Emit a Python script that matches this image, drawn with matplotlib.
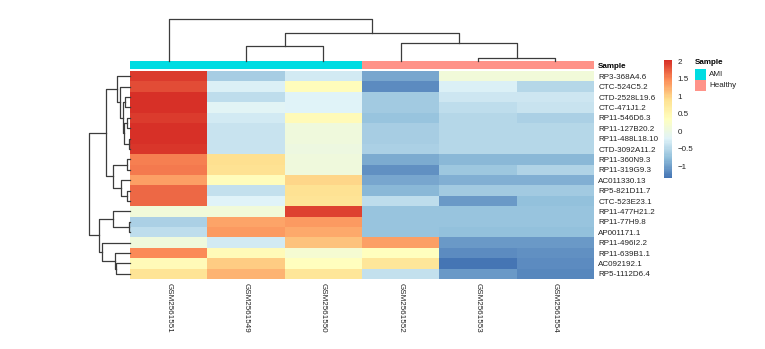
import numpy as np
import matplotlib
matplotlib.use("Agg")
from matplotlib import pyplot as plt
from matplotlib.colors import LinearSegmentedColormap, ListedColormap
from matplotlib.patches import Rectangle

ROW_LABELS = ["RP3-368A4.6", "CTC-524C5.2", "CTD-2528L19.6", "CTC-471J1.2",
              "RP11-546D6.3", "RP11-127B20.2", "RP11-488L18.10", "CTD-3092A11.2",
              "RP11-360N9.3", "RP11-319G9.3", "AC011330.13", "RP5-821D11.7",
              "CTC-523E23.1", "RP11-477H21.2", "RP11-77H9.8", "AP001171.1",
              "RP11-496I2.2", "RP11-639B1.1", "AC092192.1", "RP5-1112D6.4"]
COL_LABELS = ["GSM2561551", "GSM2561549", "GSM2561550",
              "GSM2561552", "GSM2561553", "GSM2561554"]
SAMPLE_GROUP = ["AMI", "AMI", "AMI", "Healthy", "Healthy", "Healthy"]
GROUP_NAMES = ["AMI", "Healthy"]
GROUP_COLORS = ["#00DCE2", "#FF9389"]

# z-scored expression, rows in displayed (clustered) order
VALUES = [
    [1.95, -0.60, -0.30, -0.95, 0.10, 0.10],
    [1.85, -0.25, 0.40, -1.15, -0.25, -0.50],
    [2.03, -0.45, -0.20, -0.65, -0.35, -0.35],
    [2.00, -0.17, -0.22, -0.65, -0.45, -0.38],
    [1.93, -0.30, 0.42, -0.72, -0.52, -0.57],
    [2.00, -0.37, 0.05, -0.62, -0.52, -0.52],
    [2.00, -0.37, 0.05, -0.60, -0.50, -0.50],
    [1.97, -0.37, 0.03, -0.57, -0.52, -0.52],
    [1.55, 0.90, 0.05, -0.90, -0.80, -0.80],
    [1.58, 0.88, 0.05, -1.10, -0.68, -0.55],
    [1.35, 0.40, 0.97, -0.93, -0.88, -0.88],
    [1.68, -0.40, 0.88, -0.80, -0.63, -0.63],
    [1.68, -0.20, 0.85, -0.45, -1.05, -0.75],
    [0.10, 0.10, 1.90, -0.70, -0.70, -0.70],
    [-0.58, 1.30, 1.38, -0.70, -0.70, -0.70],
    [-0.45, 1.37, 1.28, -0.70, -0.75, -0.75],
    [0.08, -0.30, 1.10, 1.33, -1.05, -1.05],
    [1.47, 0.42, 0.15, 0.36, -1.15, -1.10],
    [0.42, 1.05, 0.38, 0.80, -1.33, -1.15],
    [0.85, 1.22, 0.82, -0.42, -1.05, -1.18],
]

# merges like a scipy linkage: (child a, child b, height); ids >= n are earlier merges
ROW_LINKAGE = [(6, 7, 1), (4, 5, 3), (21, 20, 6), (2, 3, 5), (23, 22, 7),
               (1, 24, 10), (0, 25, 13), (8, 9, 3), (11, 12, 3), (10, 28, 9),
               (27, 29, 17), (26, 30, 24), (14, 15, 1), (13, 32, 17),
               (18, 19, 14), (17, 34, 15), (16, 35, 28), (33, 36, 31),
               (31, 37, 41)]
COL_LINKAGE = [(4, 5, 3), (1, 2, 15), (3, 6, 18), (7, 8, 28), (0, 9, 42)]

W, H = 765, 349
FONT = 5.8
LINE = "#3c3c3c"

plt.rcParams["font.family"] = ["Liberation Sans", "DejaVu Sans"]
plt.rcParams["font.size"] = FONT

cmap = LinearSegmentedColormap.from_list(
    "rdylbu", ["#4575B4", "#91BFDB", "#E0F3F8", "#FFFFBF", "#FEE090", "#FC8D59", "#D73027"], N=100)


def px(x0, y0, x1, y1):
    # pixel box -> figure fraction rect
    return [x0 / W, 1 - y1 / H, (x1 - x0) / W, (y1 - y0) / H]


def dendro_segments(linkage, n):
    pos = {i: i + 0.5 for i in range(n)}
    hgt = {i: 0.0 for i in range(n)}
    segs = []
    for k, (a, b, h) in enumerate(linkage):
        segs.append(([pos[a], pos[a], pos[b], pos[b]], [hgt[a], h, h, hgt[b]]))
        pos[n + k] = (pos[a] + pos[b]) / 2
        hgt[n + k] = h
    return segs


data = np.array(VALUES)
nr, nc = data.shape
vmin, vmax = data.min(), data.max()

fig = plt.figure(figsize=(W / 100, H / 100), dpi=100, facecolor="white")

# heatmap
ax = fig.add_axes(px(130, 71, 594, 279))
mesh = ax.pcolormesh(np.arange(nc + 1), np.arange(nr + 1), data, cmap=cmap, vmin=vmin, vmax=vmax)
ax.set_xlim(0, nc)
ax.set_ylim(nr, 0)
ax.set_yticks(np.arange(nr) + 0.5)
ax.set_yticklabels(ROW_LABELS)
ax.yaxis.tick_right()
ax.set_xticks(np.arange(nc) + 0.5)
ax.set_xticklabels(COL_LABELS, rotation=270, va="top", ha="center")
ax.tick_params(length=0, pad=3, labelcolor="#222222")
for s in ax.spines.values():
    s.set_visible(False)

# annotation bar
ann = fig.add_axes(px(130, 61, 594, 69))
grp_idx = np.array([[GROUP_NAMES.index(g) for g in SAMPLE_GROUP]])
ann.pcolormesh(np.arange(nc + 1), [0, 1], grp_idx, cmap=ListedColormap(GROUP_COLORS), vmin=0, vmax=1)
ann.set_xlim(0, nc)
ann.set_xticks([])
ann.set_yticks([0.5])
ann.set_yticklabels(["Sample"], fontweight="bold")
ann.yaxis.tick_right()
ann.tick_params(length=0, pad=3)
for s in ann.spines.values():
    s.set_visible(False)

# column dendrogram
cd = fig.add_axes(px(130, 19, 594, 61))
for xs, ys in dendro_segments(COL_LINKAGE, nc):
    cd.plot(xs, ys, color=LINE, lw=0.9, clip_on=False)
cd.set_xlim(0, nc)
cd.set_ylim(0, max(h for _, _, h in COL_LINKAGE))
cd.axis("off")

# row dendrogram
rd = fig.add_axes(px(89, 71, 130, 279))
for ys, xs in dendro_segments(ROW_LINKAGE, nr):
    rd.plot(xs, ys, color=LINE, lw=0.9, clip_on=False)
rd.set_ylim(nr, 0)
rd.set_xlim(max(h for _, _, h in ROW_LINKAGE), 0)
rd.axis("off")

# colour key
cax = fig.add_axes(px(664, 60, 672, 178))
cb = fig.colorbar(mesh, cax=cax, ticks=[-1, -0.5, 0, 0.5, 1, 1.5, 2])
cb.outline.set_visible(False)
cb.ax.set_yticklabels(["\u22121", "\u22120.5", "0", "0.5", "1", "1.5", "2"])
cb.ax.tick_params(length=0, pad=4, labelcolor="#222222")

# sample legend
fig.text(695 / W, 1 - 63 / H, "Sample", fontweight="bold", va="center", ha="left")
for i, (name, col) in enumerate(zip(GROUP_NAMES, GROUP_COLORS)):
    y0 = 69 + i * 11
    fig.add_artist(Rectangle((695 / W, 1 - (y0 + 11) / H), 11 / W, 11 / H,
                             transform=fig.transFigure, facecolor=col, edgecolor="none"))
    fig.text(709 / W, 1 - (y0 + 5.5) / H, name, va="center", ha="left", color="#222222")

fig.savefig("out.png", dpi=100, facecolor="white")
